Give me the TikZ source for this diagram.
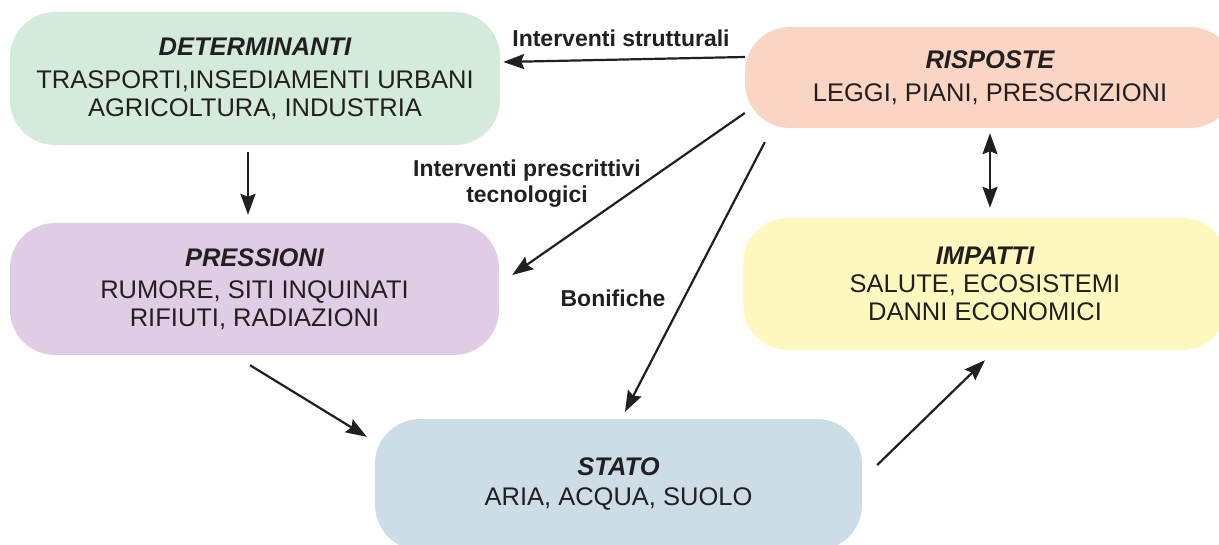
\documentclass[tikz,border=0pt]{standalone}
\usepackage{fontspec}
\setmainfont{Liberation Sans}
\usetikzlibrary{positioning, arrows.meta}

\definecolor{detgreen}{RGB}{212,234,219}
\definecolor{rispeach}{RGB}{251,213,195}
\definecolor{prelilac}{RGB}{224,204,228}
\definecolor{impyellow}{RGB}{254,248,190}
\definecolor{statoblue}{RGB}{205,221,232}
\definecolor{ink}{RGB}{35,31,32}

\begin{document}
\begin{tikzpicture}[x=1pt, y=-1pt,
    box/.style={rounded corners=45pt, inner sep=0pt, align=center, text=ink,
      font=\fontsize{25.5}{28}\selectfont},
    flow/.style={-{Stealth[length=21pt,width=15pt,inset=3pt]}, line width=2.2pt, draw=ink},
    both/.style={{Stealth[length=21pt,width=15pt,inset=3pt]}-{Stealth[length=21pt,width=15pt,inset=3pt]}},
    note/.style={font=\bfseries\fontsize{23}{26}\selectfont, align=center, text=ink}]

  \useasboundingbox (0,0) rectangle (1219,545);
  \clip (0,0) rectangle (1219,545);

  % DPSIR boxes
  \node[box, fill=detgreen, minimum width=490pt, minimum height=133pt] (det) at (255,78.5)
    {{\bfseries\itshape DETERMINANTI}\\[5pt]TRASPORTI,INSEDIAMENTI URBANI\\AGRICOLTURA, INDUSTRIA};
  \node[box, fill=rispeach, minimum width=490pt, minimum height=101pt] (ris) at (990,77.5)
    {{\bfseries\itshape RISPOSTE}\\[5pt]LEGGI, PIANI, PRESCRIZIONI};
  \node[box, fill=prelilac, minimum width=489pt, minimum height=132pt] (pre) at (254.5,289)
    {{\bfseries\itshape PRESSIONI}\\[4pt]RUMORE, SITI INQUINATI\\RIFIUTI, RADIAZIONI};
  \node[box, fill=impyellow, minimum width=484pt, minimum height=132pt] (imp) at (985,284)
    {{\bfseries\itshape IMPATTI}\\SALUTE, ECOSISTEMI\\DANNI ECONOMICI};
  \node[box, fill=statoblue, minimum width=487pt, minimum height=131pt] (stato) at (618.5,484.5)
    {{\bfseries\itshape STATO}\\[2pt]ARIA, ACQUA, SUOLO};

  % Connectors
  \draw[flow] ([shift={(0,-20.5)}]ris.west) -- ([shift={(3,-16.5)}]det.east);
  \draw[flow] ([shift={(-7,7)}]det.south) -- ([shift={(-6.5,-8)}]pre.north);
  \draw[flow] ([shift={(0,35.5)}]ris.west) -- ([shift={(13,-14)}]pre.east);
  \draw[flow] ([shift={(20,14)}]ris.south west) -- ([shift={(6.5,-7)}]stato.north);
  \draw[flow, both] ([shift={(0,5)}]ris.south) -- ([shift={(0,-10)}]ris.south |- imp.north);
  \draw[flow] ([shift={(-4.5,10)}]pre.south) -- ([shift={(-8,18)}]stato.north west);
  \draw[flow] ([shift={(15,-19.5)}]stato.east) -- ([shift={(0,10)}]imp.south);

  % Connector labels
  \node[note] (strutt) at (621,38) {Interventi strutturali};
  \node[note] (prescr) at (527,184) {Interventi prescrittivi\\tecnologici};
  \node[note] (bonif) at (613,298) {Bonifiche};

\end{tikzpicture}
\end{document}
